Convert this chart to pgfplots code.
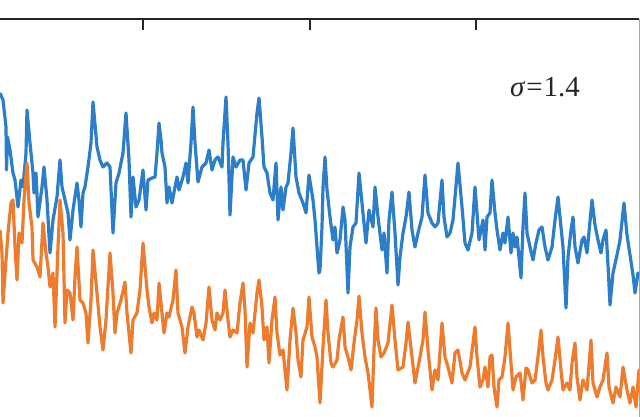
\documentclass[border=0pt]{standalone}
\usepackage{pgfplots}
\pgfplotsset{compat=1.18}
\usepackage{pgfplotstable}
\usepackage{fontspec}
\setmainfont{Liberation Serif}
\definecolor{cblue}{RGB}{44,126,200}
\definecolor{corange}{RGB}{238,124,46}
% columns: x (px), y (px from top of picture)
\pgfplotstableread{
x y
0 93
3 100
6 127
6.5 170
7.5 137
10 150
13 173
15 180
18 207
21 180
23 187
26 153
27 110
30 143
33 173
34 193
36 173
38 217
42 187
44 167
47 200
50 253
53 220
57 197
60 160
62 187
65 200
68 213
70 240
73 210
77 183
79 200
81 227
83 193
85 187
88 167
91 143
93 102
97 147
100 160
103 167
107 163
110 167
113 233
116 183
119 173
123 153
126 113
129 160
131 217
133 177
136 207
139 200
143 170
146 210
148 180
152 178
155 177
157 153
159 123
161 140
162 153
165 167
167 203
169 187
172 203
175 187
177 177
179 190
183 177
186 163
188 183
191 143
193 107
195 143
198 182
202 167
206 163
209 150
212 170
215 160
218 157
222 167
223 143
226 97
228 143
230 215
233 157
236 167
240 160
243 160
246 190
249 163
253 157
257 113
259 98
262 137
264 167
267 173
270 193
273 200
276 163
278 220
281 187
283 210
286 187
288 183
291 153
293 128
296 177
299 193
303 203
306 213
309 175
313 200
315 220
317 247
319 273
320 270
322 227
323 187
325 157
327 190
330 217
333 240
335 227
337 253
340 240
343 207
345 220
348 293
350 247
353 227
356 223
359 173
363 213
366 243
369 210
373 227
375 187
378 217
382 250
384 233
387 273
389 220
392 192
395 233
398 285
400 257
403 233
406 217
409 192
412 230
415 247
418 233
422 217
425 175
428 213
432 223
435 227
438 223
442 180
444 217
447 237
450 233
453 220
458 163
462 207
465 243
468 250
472 233
475 187
477 213
479 240
483 220
485 250
487 217
490 213
492 180
495 213
497 230
500 250
503 233
505 243
508 217
511 253
513 233
515 247
517 237
521 278
523 227
525 193
527 233
530 247
533 260
536 243
539 230
542 227
545 247
548 260
552 247
555 220
558 197
561 227
563 247
566 308
568 257
571 230
573 217
575 247
578 263
582 240
584 237
587 253
592 200
595 225
598 240
601 253
603 240
606 230
608 265
610 305
613 273
617 255
620 240
624 203
627 235
630 255
633 275
635 293
638 273
640 275
}\bluedata
\pgfplotstableread{
x y
0 230
2 253
3 303
6 260
8 233
11 203
13 200
15 247
17 280
19 233
22 243
24 200
27 163
29 203
32 227
33 260
37 267
40 277
43 223
46 253
48 267
50 287
53 273
55 327
58 247
60 200
63 233
65 323
67 290
70 293
73 320
75 277
77 247
80 300
83 303
86 313
88 343
91 300
93 250
97 293
100 327
103 350
106 320
110 253
113 293
115 333
117 313
121 300
125 282
127 313
131 353
133 320
137 313
140 290
143 243
147 290
149 307
152 323
154 313
157 320
159 283
162 313
164 333
167 313
169 317
173 300
176 270
178 313
182 327
185 353
188 327
192 307
194 313
197 337
199 330
203 340
206 323
209 287
212 320
215 330
217 313
220 320
223 313
225 290
228 320
230 337
233 330
237 333
240 303
243 283
245 310
247 367
250 323
253 333
257 293
259 280
262 307
264 340
267 327
269 363
272 320
275 297
277 333
280 355
283 350
287 390
290 340
293 308
296 333
298 360
301 377
303 340
307 327
309 297
312 337
315 347
317 357
320 403
323 347
326 300
328 333
331 363
333 367
337 360
339 340
343 317
345 347
348 357
351 370
354 343
357 320
359 296
362 333
365 357
368 373
372 407
374 350
376 308
378 340
381 357
384 353
388 343
392 305
395 340
398 370
403 367
406 343
408 322
412 357
415 383
420 357
423 340
425 312
428 350
432 390
435 370
438 380
442 323
445 357
448 367
452 383
455 353
458 350
462 373
465 380
470 367
475 327
477 357
480 387
483 380
485 367
488 387
490 357
492 355
494 387
497 407
499 380
502 377
505 357
508 323
511 363
513 390
516 377
520 373
523 400
526 368
528 370
532 383
535 380
538 357
541 330
543 357
546 383
548 390
552 380
555 360
558 337
561 370
563 390
567 383
570 390
572 363
575 343
577 377
580 400
583 380
587 390
591 340
593 383
597 397
600 387
603 380
607 353
609 387
613 403
616 387
620 397
623 367
627 390
630 403
633 387
636 407
639 370
640 375
}\orangedata
\begin{document}
\begin{tikzpicture}
\useasboundingbox (0,0) rectangle (640pt,416pt);
\clip (0,0) rectangle (640pt,416pt);
\begin{axis}[
  scale only axis,
  width=639pt, height=431pt,
  at={(0pt,-34pt)}, anchor=south west,
  xmin=0, xmax=639, ymin=-34, ymax=397,
  axis x line*=top, axis y line*=right,
  x axis line style={line width=1.6pt, black!85},
  y axis line style={line width=1pt, black!35},
  xtick={143,310,476}, xticklabels={},
  ytick=\empty,
  tick align=inside,
  major tick length=11pt,
  every tick/.style={line width=1.7pt, black!85},
]
\addplot[cblue, line width=3.2pt, line join=round, no markers]
  table[x=x, y expr=416-\thisrow{y}] {\bluedata};
\addplot[corange, line width=3.2pt, line join=round, no markers]
  table[x=x, y expr=416-\thisrow{y}] {\orangedata};
\node[anchor=base, font=\fontsize{29}{33}\selectfont, text=black!85, inner sep=0pt]
  at (axis cs:545,320) {\textit{σ}\kern1pt=\kern1pt1.4};
\end{axis}
\end{tikzpicture}
\end{document}
